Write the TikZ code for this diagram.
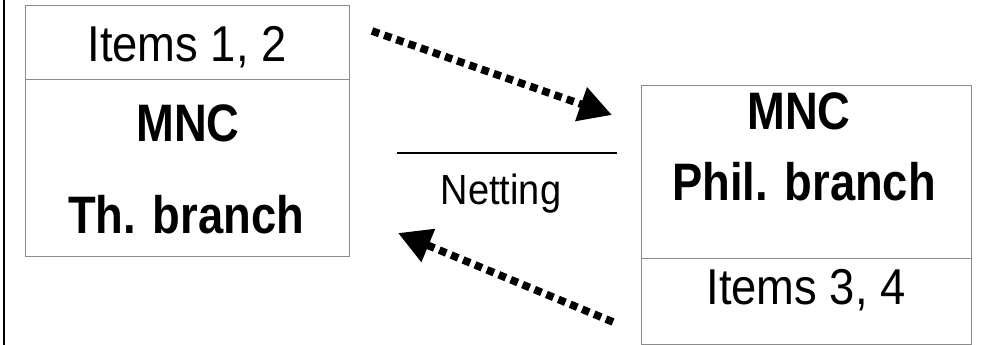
\documentclass[tikz,border=0pt]{standalone}
\usepackage{fontspec}
\setmainfont{Liberation Sans}
\newfontfamily\narrowfont[FakeStretch=0.9]{Liberation Sans}
\newfontfamily\narrowbold[FakeStretch=0.86]{Liberation Sans Bold}
\usetikzlibrary{arrows.meta}
\tikzset{
  cell/.style={draw=black!45, line width=0.5pt, inner sep=0pt, anchor=north west},
  txt/.style={font=\narrowfont\fontsize{43}{48}\selectfont, inner sep=0pt, anchor=base},
  txtbold/.style={txt, font=\narrowbold\fontsize{45}{50}\selectfont},
  flow/.style={line width=6.5pt, dash pattern=on 6.5pt off 4.5pt, -{Triangle[length=28pt,width=29pt]}}
}
\begin{document}
\begin{tikzpicture}[x=0.03cm, y=-0.03cm]
\useasboundingbox (0,0) rectangle (988,345);
\draw[line width=1.6pt] (4,0)--(4,345);

\node[cell, minimum width=9.72cm, minimum height=2.22cm] (thtop) at (25,5) {};
\node[cell, minimum width=9.72cm, minimum height=5.31cm] (thmain) at (25,79) {};
\node[txt] (items12) at (187,62) {Items 1, 2};
\node[txtbold] (mncth) at (188,142) {MNC};
\node[txtbold] (thbr) at (186,233) {Th. branch};

\node[cell, minimum width=9.9cm, minimum height=5.19cm] (phmain) at (641,85) {};
\node[cell, minimum width=9.9cm, minimum height=2.58cm] (phbot) at (641,258) {};
\node[txtbold] (mncph) at (799,130) {MNC};
\node[txtbold] (phbr) at (804,201) {Phil. branch};
\node[txt] (items34) at (806,304) {Items 3, 4};

\coordinate (netl) at (397,153);
\coordinate (netr) at (617,153);
\draw[line width=2.5pt] (netl)--(netr);
\node[txt, font=\narrowfont\fontsize{36}{40}\selectfont] (netting) at (501,205) {Netting};

\coordinate (outstart) at (372,31);
\coordinate (outend) at (612,115);
\coordinate (backstart) at (613,322);
\coordinate (backend) at (398,233);
\draw[flow] (outstart)--(outend);
\draw[flow] (backstart)--(backend);
\end{tikzpicture}
\end{document}
